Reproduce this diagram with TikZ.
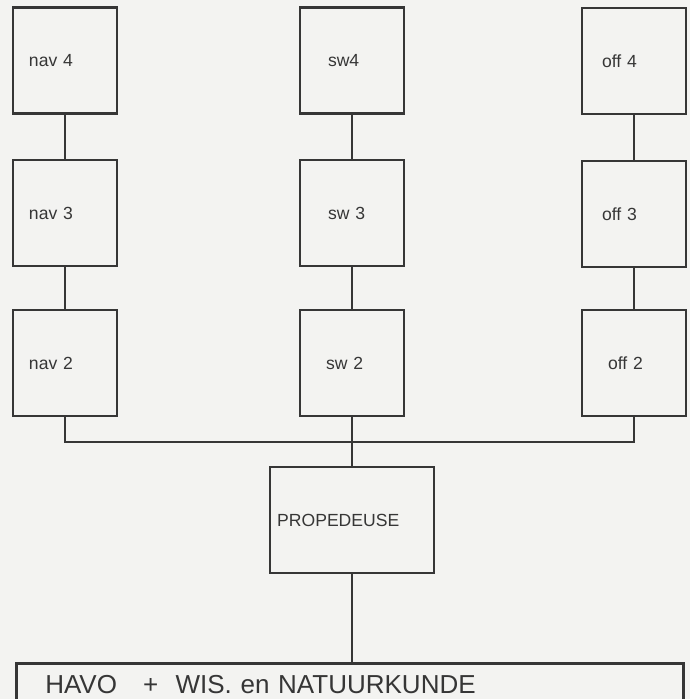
\documentclass[tikz,border=0pt]{standalone}
\usepackage{fontspec}
\setmainfont{Liberation Sans}
\usepackage{xcolor}
\usetikzlibrary{positioning}
\definecolor{inkt}{HTML}{363636}
\definecolor{papier}{HTML}{F3F3F1}

\begin{document}
\begin{tikzpicture}[x=0.25mm, y=-0.25mm,
    vak/.style={draw=inkt, line width=1.8pt, text=inkt, minimum width=26mm,
        minimum height=26.5mm, inner ysep=0pt, inner xsep=#1,
        text width=26mm-2*#1, align=left, font=\fontsize{12.5}{14}\selectfont},
    lijn/.style={draw=inkt, line width=1.1pt}]
    % 1. Achtergrond en kader
    \clip (0,0) rectangle (690,699);
    \fill[papier] (0,0) rectangle (690,699);

    % 2. De drie kolommen
    \node[vak=4mm] (nav4) at (65,60.5) {nav~4};
    \node[vak=4mm] (nav3) at (65,213) {nav~3};
    \node[vak=4mm] (nav2) at (65,363) {nav~2};
    \node[vak=7mm] (sw4) at (352,60.5) {sw4};
    \node[vak=7mm] (sw3) at (352,213) {sw~3};
    \node[vak=6.5mm] (sw2) at (352,363) {sw~2};
    \node[vak=5mm] (off4) at (634,61) {off~4};
    \node[vak=5mm] (off3) at (634,214) {off~3};
    \node[vak=6.5mm] (off2) at (634,363) {off~2};

    % 3. Propedeuse en vooropleiding
    \node[vak=1.8mm, minimum width=41mm, text width=41mm-3.6mm] (prop) at (352,520) {PROPEDEUSE};
    \node[draw=inkt, line width=1.8pt, text=inkt, anchor=north west,
        minimum width=166.75mm, minimum height=10.5mm, inner ysep=0pt, inner xsep=7.25mm,
        text width=166.75mm-14.5mm, align=left, font=\fontsize{18.5}{21}\selectfont]
        (havo) at (15,662) {HAVO~~~+~~WIS. en NATUURKUNDE};

    % 4. Verbindingen
    \foreach \k in {nav,sw,off} {
        \draw[lijn] (\k4) -- (\k3);
        \draw[lijn] (\k3) -- (\k2);
    }
    \coordinate (bus) at (352,442);
    \draw[lijn] (nav2.south) -- (nav2.south |- bus) -- (off2.south |- bus) -- (off2.south);
    \draw[lijn] (sw2.south) -- (prop.north);
    \draw[lijn] (prop.south) -- (prop.south |- havo.north);
\end{tikzpicture}
\end{document}
